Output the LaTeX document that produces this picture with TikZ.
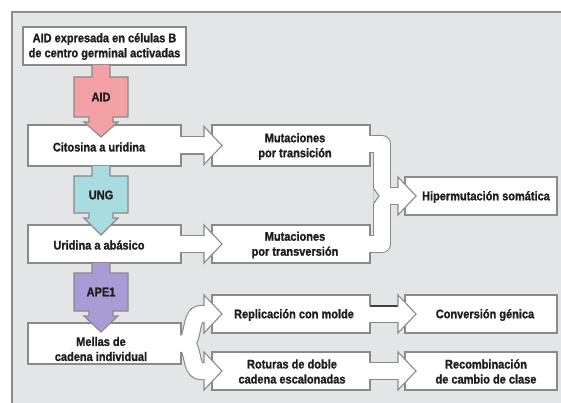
\documentclass[tikz,border=0pt]{standalone}
\usepackage{fontspec}
\newfontfamily\lbl[FakeStretch=0.88, FakeBold=1.2]{Liberation Sans}
\usetikzlibrary{calc}
\definecolor{bg}{HTML}{E4E5E7}
\definecolor{framegray}{HTML}{8C8C8C}
\definecolor{bordergray}{HTML}{8A8A8A}
\definecolor{textdark}{HTML}{1E1E1E}
\definecolor{aidfill}{HTML}{F3A1A5}
\definecolor{ungfill}{HTML}{A8DCE0}
\definecolor{apefill}{HTML}{A99BD6}
\newcommand{\colarrow}[6]{%
  \filldraw[fill=#1, draw=bordergray, line width=1.1pt, line join=miter]
    (92,#2) -- (92,#3) -- (74,#3) -- (74,#4) -- (89,#4) -- (89,#5) -- (84,#5)
    -- (101,#6) -- (118,#5) -- (113,#5) -- (113,#4) -- (128,#4) -- (128,#3)
    -- (110,#3) -- (110,#2);}
\newcommand{\headR}[1]{%
  \fill[white] ($(#1)+(0,-19)$) -- ($(#1)+(18,0)$) -- ($(#1)+(0,19)$) -- cycle;
  \draw[bordergray, line width=1.1pt, line join=miter]
    ($(#1)+(0,-8)$) -- ($(#1)+(0,-19)$) -- ($(#1)+(18,0)$) -- ($(#1)+(0,19)$) -- ($(#1)+(0,8)$);}
\begin{document}
\begin{tikzpicture}[x=1pt, y=-1pt,
  box/.style={draw=bordergray, fill=white, line width=1.1pt, inner sep=0pt, outer sep=0pt},
  txt/.style={font=\lbl\bfseries\fontsize{12.5}{15}\selectfont, text=textdark, align=center, inner sep=0pt},
  outerline/.style={draw=bordergray, line width=18.2pt, line join=round, line cap=butt},
  innerline/.style={draw=white, line width=16pt, line join=round, line cap=butt}]
\useasboundingbox (0,0) rectangle (561,403);
\fill[bg] (12,12) rectangle (561,403);
\draw[framegray, line width=1.5pt] (12,403) -- (12,12) -- (561,12);

% box positions
\path (104.5,46) coordinate (ptop) (104.5,145.5) coordinate (pcit) (104.5,244) coordinate (puri)
      (104.5,343.5) coordinate (pmel) (291,145.5) coordinate (pmt1) (291,244) coordinate (pmt2)
      (291,314) coordinate (prep) (291,371) coordinate (prot) (481,196) coordinate (phip)
      (481,314) coordinate (pcon) (481,371) coordinate (prec);

% invisible boxes to get anchors
\path node[minimum width=163pt, minimum height=38pt, inner sep=0pt, outer sep=0pt] (top) at (ptop) {}
      node[minimum width=153pt, minimum height=41pt, inner sep=0pt, outer sep=0pt] (cit) at (pcit) {}
      node[minimum width=153pt, minimum height=38pt, inner sep=0pt, outer sep=0pt] (uri) at (puri) {}
      node[minimum width=153pt, minimum height=41pt, inner sep=0pt, outer sep=0pt] (mel) at (pmel) {}
      node[minimum width=158pt, minimum height=41pt, inner sep=0pt, outer sep=0pt] (mt1) at (pmt1) {}
      node[minimum width=158pt, minimum height=38pt, inner sep=0pt, outer sep=0pt] (mt2) at (pmt2) {}
      node[minimum width=158pt, minimum height=38pt, inner sep=0pt, outer sep=0pt] (rep) at (prep) {}
      node[minimum width=158pt, minimum height=38pt, inner sep=0pt, outer sep=0pt] (rot) at (prot) {}
      node[minimum width=152pt, minimum height=38pt, inner sep=0pt, outer sep=0pt] (hip) at (phip) {}
      node[minimum width=152pt, minimum height=38pt, inner sep=0pt, outer sep=0pt] (con) at (pcon) {}
      node[minimum width=152pt, minimum height=38pt, inner sep=0pt, outer sep=0pt] (rec) at (prec) {};

% connector coordinates
\coordinate (s1) at ($(cit.east)+(-5,0)$);  \coordinate (h1) at ($(mt1.west)+(-8,0)$);
\coordinate (s2) at ($(uri.east)+(-5,0)$);  \coordinate (h2) at ($(mt2.west)+(-8,0)$);
\coordinate (s3) at ($(mt1.east)+(-5,-1.5)$);
\coordinate (s4) at ($(mt2.east)+(-5,0)$);
\coordinate (h3) at ($(hip.west)+(-7,0)$);  \coordinate (mj) at ($(hip.west)+(-23,0)$);
\coordinate (s5) at ($(mel.east)+(-5,0)$);  \coordinate (m5) at ($(mel.east)+(3,0)$);
\coordinate (h5) at ($(rep.west)+(-8,0)$);  \coordinate (h6) at ($(rot.west)+(-8,0)$);
\coordinate (c5a) at ($(m5)+(10,0)$);
\coordinate (c5b) at ($(h5)+(-14,0)$);  \coordinate (e5) at ($(h5)+(-4,0)$);
\coordinate (c6b) at ($(h6)+(-14,0)$);  \coordinate (e6) at ($(h6)+(-4,0)$);
\coordinate (s7) at ($(rep.east)+(-5,0)$);  \coordinate (h7) at ($(con.west)+(-7,0)$);
\coordinate (s8) at ($(rot.east)+(-5,0)$);  \coordinate (h8) at ($(rec.west)+(-7,0)$);

% outer (border) strokes of the fat arrows
\foreach \st in {outerline} {
  \draw[\st] (s1) -- (h1);
  \draw[\st] (s2) -- (h2);
  \draw[\st] (s3) -| (mj) -- (h3);
  \draw[\st] (s4) -| (mj) -- (h3);
  \draw[\st] (s5) -- (m5) .. controls (c5a) and (c5b) .. (e5) -- (h5);
  \draw[\st] (s5) -- (m5) .. controls (c5a) and (c6b) .. (e6) -- (h6);
  \draw[\st] (s7) -- (h7);
  \draw[\st] (s8) -- (h8);
}

% boxes
\foreach \b in {top,cit,uri,mel,mt1,mt2,rep,rot,hip,con,rec}
  \draw[box] (\b.north west) rectangle (\b.south east);

% inner (white) strokes
\foreach \st in {innerline} {
  \draw[\st] (s1) -- (h1);
  \draw[\st] (s2) -- (h2);
  \draw[\st] (s3) -| (mj) -- (h3);
  \draw[\st] (s4) -| (mj) -- (h3);
  \draw[\st] (s5) -- (m5) .. controls (c5a) and (c5b) .. (e5) -- (h5);
  \draw[\st] (s5) -- (m5) .. controls (c5a) and (c6b) .. (e6) -- (h6);
  \draw[\st] (s7) -- (h7);
  \draw[\st] (s8) -- (h8);
}

% notch at the merge
\fill[bg] ($(mj)+(-8.6,-7)$) -- ($(mj)+(-3,0)$) -- ($(mj)+(-8.6,7)$) -- cycle;
\draw[bordergray, line width=1.1pt] ($(mj)+(-8,-7)$) -- ($(mj)+(-3,0)$) -- ($(mj)+(-8,7)$);

% dark top line of the replication arrow
\draw[black!75, line width=1.3pt] ($(rep.east)+(0,-8)$) -- ($(h7)+(0,-8)$);

% heads
\headR{h1} \headR{h2} \headR{h3} \headR{h5} \headR{h6} \headR{h7} \headR{h8}

% coloured enzyme arrows
\colarrow{aidfill}{65}{77}{117}{122}{137}
\colarrow{ungfill}{166}{176}{213}{218}{235}
\colarrow{apefill}{263}{273}{311}{316}{332}

% texts
\node[txt] (t0) at (104.5,46.5) {AID expresada en células B\\de centro germinal activadas};
\node[txt] (eAID) at (101,97) {AID};
\node[txt] (eUNG) at (101,195) {UNG};
\node[txt] (eAPE) at (101,292) {APE1};
\node[txt] (t1) at (99,147) {Citosina a uridina};
\node[txt] (t2) at (99,245) {Uridina a abásico};
\node[txt] (t3) at (101,349) {Mellas de\\cadena individual};
\node[txt] (t4) at (295,146.5) {Mutaciones\\por transición};
\node[txt] (t5) at (295,245) {Mutaciones\\por transversión};
\node[txt] (t6) at (294,315) {Replicación con molde};
\node[txt] (t7) at (292,371.5) {Roturas de doble\\cadena escalonadas};
\node[txt] (t8) at (486,197) {Hipermutación somática};
\node[txt] (t9) at (485,315) {Conversión génica};
\node[txt] (t10) at (486,371.5) {Recombinación\\de cambio de clase};
\end{tikzpicture}
\end{document}
